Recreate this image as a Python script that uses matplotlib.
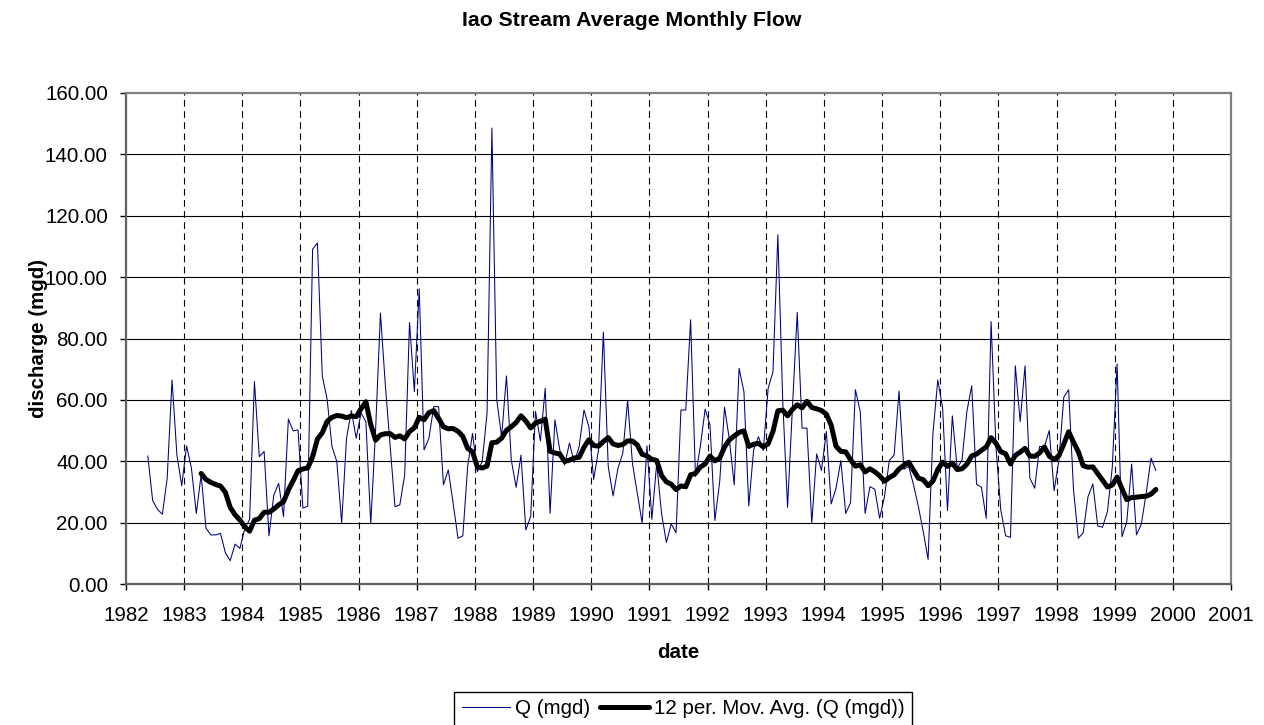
import matplotlib.pyplot as plt
import numpy as np
import pandas as pd

plt.rcParams['font.family'] = ['Liberation Sans', 'DejaVu Sans']

# average monthly flow (mgd), one value per month from May 1982 to Sep 1999
q_mgd = [
    41.7, 27.2, 24.3, 22.7, 34.5, 66.5, 42.1, 32.0, 45.0, 37.7,
    23.0, 35.5, 18.2, 16.0, 16.0, 16.5, 10.2, 7.6, 13.0, 11.6,
    18.0, 21.0, 66.0, 41.5, 43.2, 15.7, 29.0, 32.8, 22.0, 53.7,
    49.9, 50.2, 24.7, 25.4, 109.1, 111.1, 67.8, 60.2, 44.8, 39.9,
    19.8, 47.5, 56.5, 47.5, 55.7, 52.9, 19.6, 50.2, 88.3, 65.0,
    45.0, 25.2, 25.8, 35.5, 85.2, 62.7, 96.2, 43.7, 47.5, 57.8,
    57.8, 32.3, 37.2, 26.3, 14.9, 15.7, 38.3, 49.1, 36.6, 39.9,
    55.7, 148.6, 60.0, 48.0, 67.8, 40.4, 31.5, 42.0, 17.6, 22.0,
    56.2, 46.6, 63.8, 23.0, 53.5, 43.7, 38.8, 45.9, 39.6, 44.8,
    56.7, 51.3, 34.1, 43.7, 82.1, 38.3, 28.7, 37.7, 42.6, 59.8,
    39.3, 29.6, 19.8, 45.0, 21.1, 39.3, 23.0, 13.5, 19.6, 16.7,
    56.7, 56.7, 86.1, 35.0, 44.8, 57.0, 51.8, 20.7, 33.4, 57.6,
    47.0, 32.3, 70.3, 62.7, 25.4, 43.7, 48.0, 43.5, 63.8, 69.2,
    113.8, 60.0, 25.0, 57.3, 88.5, 50.8, 50.8, 19.8, 42.4, 37.0,
    49.7, 26.1, 31.2, 40.2, 23.0, 26.5, 63.3, 56.2, 23.0, 31.7,
    30.9, 21.4, 28.5, 40.2, 42.1, 62.9, 37.4, 38.3, 32.3, 25.2,
    17.1, 8.0, 49.1, 66.5, 57.3, 23.9, 54.8, 37.7, 40.4, 56.2,
    64.6, 32.5, 31.5, 21.4, 85.5, 44.8, 24.1, 15.7, 15.2, 71.1,
    52.9, 71.1, 34.5, 31.2, 44.8, 44.8, 50.0, 30.4, 40.4, 60.9,
    63.3, 30.7, 14.9, 16.7, 28.5, 32.6, 18.9, 18.5, 23.6, 38.0,
    71.7, 15.4, 20.3, 39.1, 16.0, 19.5, 29.6, 41.0, 37.0,
]
first_year = 1982
first_month = 5
ma_window = 12
year_ticks = list(range(1982, 2002))
y_ticks = list(range(0, 161, 20))

q = pd.Series(q_mgd)
# mid-month dates as decimal years
t = first_year + (first_month - 0.5 + np.arange(len(q))) / 12
ma = q.rolling(ma_window).mean()  # Excel "12 per. Mov. Avg." trendline

fs = 14.8
fig = plt.figure(figsize=(12.64, 7.25), dpi=100)
ax = fig.add_axes([126 / 1264, 141 / 725, 1105 / 1264, 491 / 725])

ax.plot(t, q, color='#000080', lw=0.75, label='Q (mgd)')
ax.plot(t, ma, color='black', lw=3.6, solid_capstyle='round',
        label='12 per. Mov. Avg. (Q (mgd))')

ax.set_xlim(year_ticks[0], year_ticks[-1])
ax.set_ylim(y_ticks[0], y_ticks[-1])
ax.set_xticks(year_ticks)
ax.set_yticks(y_ticks)
ax.set_yticklabels([f'{v:.2f}' for v in y_ticks])

# grid: solid horizontal, dashed vertical
for v in y_ticks[1:-1]:
    ax.axhline(v, color='black', lw=0.8, zorder=0)
for yr in year_ticks[1:-1]:
    ax.axvline(yr, color='black', lw=0.8, linestyle=(0, (6, 4)), zorder=0)

for s in ax.spines.values():
    s.set_color('#808080')
    s.set_linewidth(1.6)
ax.spines['left'].set_color('#606060')
ax.spines['bottom'].set_color('#606060')

ax.tick_params(axis='x', direction='out', length=4, width=1, pad=12, labelsize=fs)
ax.tick_params(axis='y', direction='out', length=4, width=1, pad=9, labelsize=fs)

ax.set_xlabel('date', fontsize=fs, fontweight='bold', va='center')
ax.xaxis.set_label_coords(0.5, -69 / 491)
ax.set_ylabel('discharge (mgd)', fontsize=fs, fontweight='bold', va='center')
ax.yaxis.set_label_coords(-87 / 1105, 0.5)

fig.suptitle('Iao Stream Average Monthly Flow', x=0.5, y=1 - 20 / 725,
             va='center', fontsize=15.3, fontweight='bold')

leg = fig.legend(loc='center', bbox_to_anchor=(683 / 1264, 1 - 709 / 725),
                 ncol=2, fontsize=fs, frameon=True, fancybox=False,
                 edgecolor='black', framealpha=1, handlelength=2.35,
                 handletextpad=0.25, columnspacing=0.5, borderpad=0.35)
leg.get_frame().set_linewidth(1.0)

fig.savefig('out.png', dpi=100)
